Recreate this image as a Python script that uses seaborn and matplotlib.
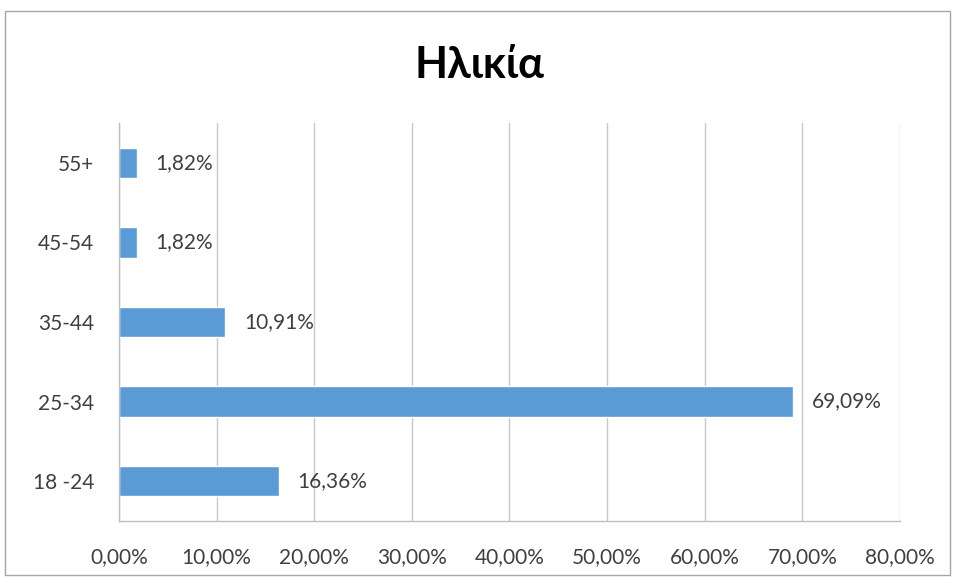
import matplotlib
matplotlib.use("Agg")
import matplotlib.pyplot as plt
from matplotlib.ticker import FuncFormatter, MultipleLocator
from matplotlib.patches import Rectangle
import seaborn as sns
import pandas as pd

# Age groups (top to bottom) and their share of respondents (%)
categories = ["55+", "45-54", "35-44", "25-34", "18 -24"]
values = [1.82, 1.82, 10.91, 69.09, 16.36]
title = "Ηλικία"

df = pd.DataFrame({"group": categories, "share": values})

sns.set_theme(style="white")
plt.rcParams["font.family"] = ["Lato", "Open Sans", "DejaVu Sans"]

fig = plt.figure(figsize=(9.59, 5.79), dpi=100)
ax = fig.add_axes([0.124, 0.1002, 0.8145, 0.6874])

sns.barplot(data=df, x="share", y="group", order=categories, color="#5B9BD5",
            saturation=1, width=0.38, ax=ax)

ax.set_xlim(0, 80)
ax.xaxis.set_major_locator(MultipleLocator(10))
ax.xaxis.set_major_formatter(FuncFormatter(lambda v, p: f"{v:.2f}".replace(".", ",") + "%"))
ax.grid(axis="x", color="#c8c8c8", linewidth=1)
ax.set_axisbelow(True)
ax.set_xlabel("")
ax.set_ylabel("")

for side in ("top", "right"):
    ax.spines[side].set_visible(False)
for side in ("left", "bottom"):
    ax.spines[side].set_color("#bfbfbf")
    ax.spines[side].set_linewidth(1)

ax.tick_params(axis="x", which="major", length=8, color="#bfbfbf", width=1,
               labelsize=15, labelcolor="#404040", pad=11)
ax.tick_params(axis="y", length=0, labelsize=15, labelcolor="#404040", pad=18)

for i, v in enumerate(values):
    ax.text(v + 1.9, i, f"{v:.2f}".replace(".", ",") + "%", va="center", ha="left",
            fontsize=15, color="#404040")

fig.text(0.5, 0.888, title, ha="center", va="center", fontsize=31,
         fontweight="bold", color="#000000")

# Chart-area frame
fig.patches.append(Rectangle((5 / 959, 4 / 579), 945 / 959, 564 / 579,
                             transform=fig.transFigure, fill=False,
                             edgecolor="#a6a6a6", linewidth=1))

fig.savefig("out.png", dpi=100)
